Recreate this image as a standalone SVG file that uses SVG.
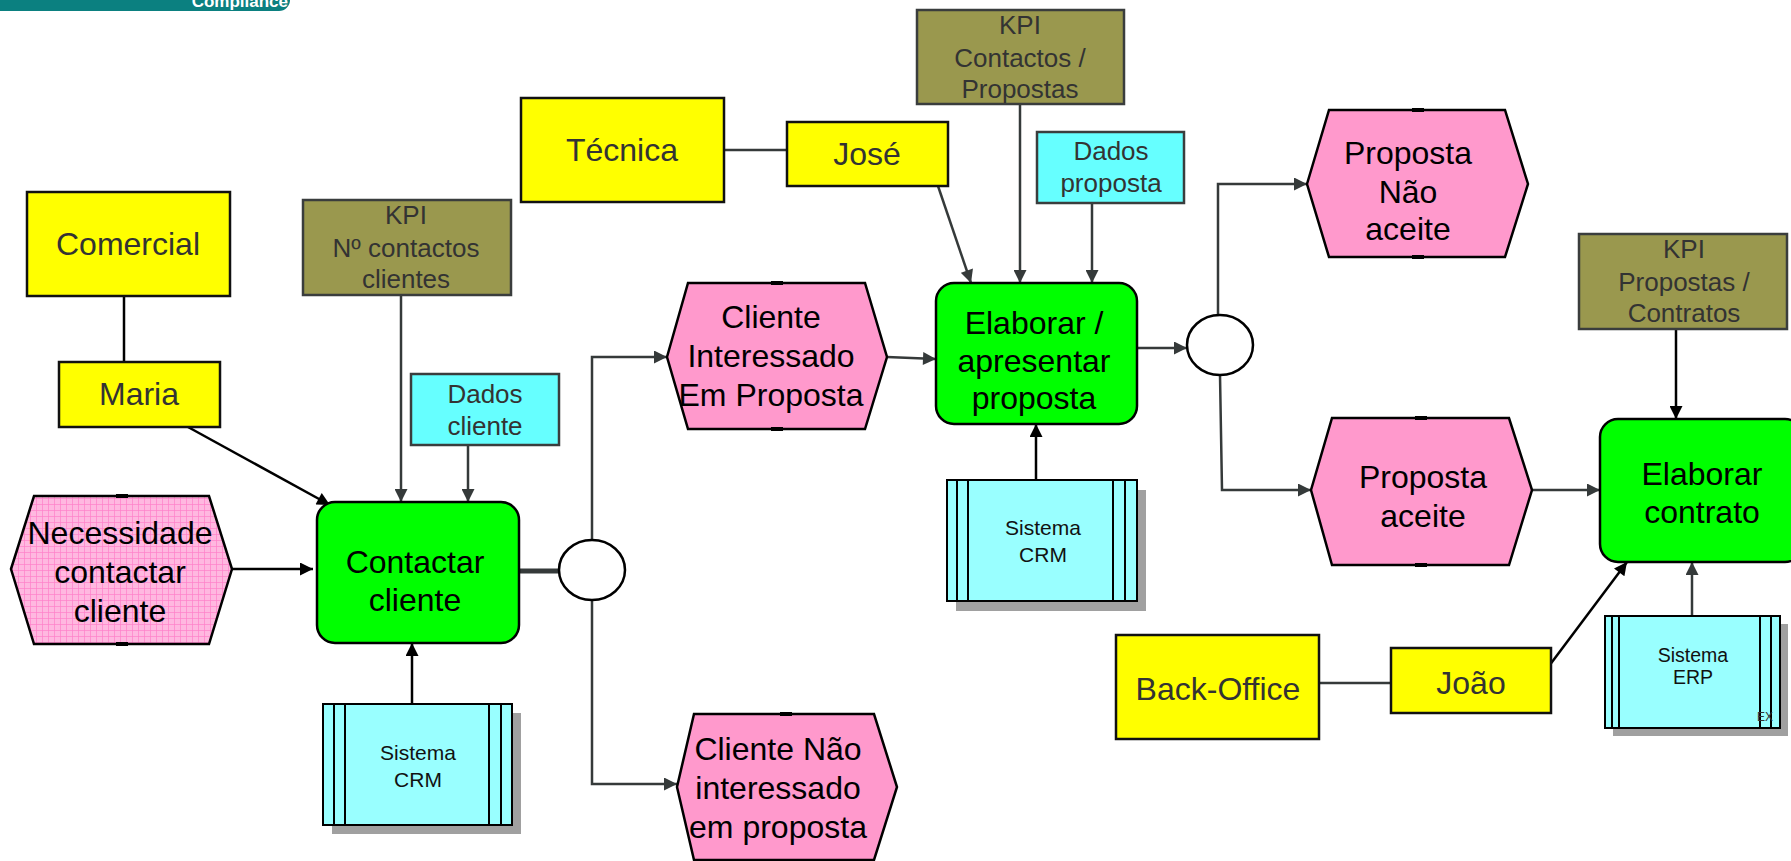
<svg xmlns="http://www.w3.org/2000/svg" width="1791" height="861" viewBox="0 0 1791 861">
<style>
.t{font-family:"Liberation Sans",Arial,sans-serif;text-anchor:middle}
.big{font-size:32px;fill:#000}
.org{font-size:32px;fill:#333}
.kpi{font-size:26px;fill:#333}
.sys{font-size:21px;fill:#111}
.yel{fill:#ffff00;stroke:#111;stroke-width:2.5}
.fn{fill:#00ff00;stroke:#000;stroke-width:2.5}
.ev{fill:#ff99cc;stroke:#000;stroke-width:2.5;stroke-linejoin:miter}
.kp{fill:#9a984e;stroke:#3a3d3d;stroke-width:2.5}
.da{fill:#66ffff;stroke:#3a3d3d;stroke-width:2.5}
.sy{fill:#99ffff;stroke:#000;stroke-width:2}
.sh{fill:#a0a0a0}
.il{stroke:#000;stroke-width:2;fill:none}
.c{fill:none;stroke:#353a3a;stroke-width:2.5}
.cb{fill:none;stroke:#000;stroke-width:2.5}
.mk{fill:#000}
</style>
<defs>
<marker id="ah" viewBox="0 0 10 10" refX="10" refY="5" markerWidth="15" markerHeight="13" markerUnits="userSpaceOnUse" orient="auto"><path d="M0,0 L10,5 L0,10 z" fill="#353a3a"/></marker>
<marker id="ab" viewBox="0 0 10 10" refX="10" refY="5" markerWidth="15" markerHeight="13" markerUnits="userSpaceOnUse" orient="auto"><path d="M0,0 L10,5 L0,10 z" fill="#000"/></marker>
<pattern id="grid" width="6" height="6" patternUnits="userSpaceOnUse"><rect width="6" height="6" fill="#ffb8e0"/><path d="M0,0.5 H6 M0.5,0 V6" stroke="#ff80c8" stroke-width="0.7"/></pattern>
</defs>

<g id="banner">
<rect x="-30" y="-40" width="320" height="51" rx="11" fill="#0b8080"/>
<text x="288" y="7" style="font-family:'Liberation Sans',Arial,sans-serif;font-size:17px;font-weight:bold;fill:#fff;text-anchor:end">Compliance</text>
</g>

<g id="connectors">
<line class="cb" x1="124" y1="296" x2="124" y2="362"/>
<line class="cb" x1="188" y1="427" x2="330" y2="505" marker-end="url(#ab)"/>
<line class="c" x1="401" y1="295" x2="401" y2="502" marker-end="url(#ah)"/>
<line class="c" x1="468" y1="445" x2="468" y2="502" marker-end="url(#ah)"/>
<line class="cb" x1="232" y1="569" x2="313" y2="569" marker-end="url(#ab)"/>
<line class="cb" x1="412" y1="704" x2="412" y2="643" marker-end="url(#ab)"/>
<line x1="519" y1="571" x2="559" y2="571" stroke="#353a3a" stroke-width="5"/>
<polyline class="c" points="592,540 592,357 667,357" marker-end="url(#ah)"/>
<polyline class="c" points="592,600 592,784 677,784" marker-end="url(#ah)"/>
<line class="c" x1="887" y1="357" x2="936" y2="359" marker-end="url(#ah)"/>
<line class="c" x1="724" y1="150" x2="787" y2="150"/>
<line class="c" x1="938" y1="186" x2="971" y2="283" marker-end="url(#ah)"/>
<line class="c" x1="1020" y1="104" x2="1020" y2="283" marker-end="url(#ah)"/>
<line class="c" x1="1092" y1="203" x2="1092" y2="283" marker-end="url(#ah)"/>
<line class="cb" x1="1036" y1="480" x2="1036" y2="424" marker-end="url(#ab)"/>
<line class="c" x1="1137" y1="348" x2="1187" y2="348" marker-end="url(#ah)"/>
<polyline class="c" points="1218,315 1218,184 1307,184" marker-end="url(#ah)"/>
<polyline class="c" points="1220,375 1222,490 1311,490" marker-end="url(#ah)"/>
<line class="c" x1="1532" y1="490" x2="1600" y2="490" marker-end="url(#ah)"/>
<line class="cb" x1="1676" y1="329" x2="1676" y2="419" marker-end="url(#ab)"/>
<line class="c" x1="1319" y1="683" x2="1391" y2="683"/>
<line class="cb" x1="1549" y1="666" x2="1627" y2="562" marker-end="url(#ab)"/>
<line class="c" x1="1692" y1="616" x2="1692" y2="562" marker-end="url(#ah)"/>
</g>

<g id="comercial"><rect class="yel" x="27" y="192" width="203" height="104"/><text class="t org" x="128" y="255">Comercial</text></g>
<g id="maria"><rect class="yel" x="59" y="362" width="161" height="65"/><text class="t org" x="139" y="405">Maria</text></g>
<g id="kpi-contactos"><rect class="kp" x="303" y="200" width="208" height="95"/><text class="t kpi" x="406" y="224">KPI</text><text class="t kpi" x="406" y="257">Nº contactos</text><text class="t kpi" x="406" y="288">clientes</text></g>
<g id="dados-cliente"><rect class="da" x="411" y="374" width="148" height="71"/><text class="t kpi" x="485" y="403">Dados</text><text class="t kpi" x="485" y="435">cliente</text></g>
<g id="necessidade"><polygon points="11,569 34,496 209,496 232,569 209,644 34,644" fill="url(#grid)" stroke="#000" stroke-width="2.5"/><rect class="mk" x="116" y="494" width="12" height="4"/><rect class="mk" x="116" y="642" width="12" height="4"/><text class="t big" x="120" y="544">Necessidade</text><text class="t big" x="120" y="583">contactar</text><text class="t big" x="120" y="622">cliente</text></g>
<g id="contactar"><rect class="fn" x="317" y="502" width="202" height="141" rx="18"/><text class="t big" x="415" y="573">Contactar</text><text class="t big" x="415" y="611">cliente</text></g>
<g id="xor1"><ellipse cx="592" cy="570" rx="33" ry="30" fill="#fff" stroke="#000" stroke-width="2.5"/></g>
<g id="crm1"><rect class="sh" x="332" y="713" width="189" height="121"/><rect class="sy" x="323" y="704" width="189" height="121"/><path class="il" d="M334,704V825M345,704V825M489,704V825M501,704V825"/><text class="t sys" x="418" y="760">Sistema</text><text class="t sys" x="418" y="787">CRM</text></g>
<g id="cliente-interessado"><polygon class="ev" points="667,357 688,283 865,283 887,357 865,429 688,429"/><rect class="mk" x="771" y="281" width="12" height="4"/><rect class="mk" x="771" y="427" width="12" height="4"/><text class="t big" x="771" y="328">Cliente</text><text class="t big" x="771" y="367">Interessado</text><text class="t big" x="771" y="406">Em Proposta</text></g>
<g id="cliente-nao"><polygon class="ev" points="677,787 694,714 874,714 897,787 874,860 694,860"/><rect class="mk" x="780" y="712" width="12" height="4"/><text class="t big" x="778" y="760">Cliente Não</text><text class="t big" x="778" y="799">interessado</text><text class="t big" x="778" y="838">em proposta</text></g>
<g id="tecnica"><rect class="yel" x="521" y="98" width="203" height="104"/><text class="t org" x="622" y="161">Técnica</text></g>
<g id="jose"><rect class="yel" x="787" y="122" width="161" height="64"/><text class="t org" x="867" y="165">José</text></g>
<g id="kpi-propostas"><rect class="kp" x="917" y="10" width="207" height="94"/><text class="t kpi" x="1020" y="34">KPI</text><text class="t kpi" x="1020" y="67">Contactos /</text><text class="t kpi" x="1020" y="98">Propostas</text></g>
<g id="dados-proposta"><rect class="da" x="1037" y="132" width="147" height="71"/><text class="t kpi" x="1111" y="160">Dados</text><text class="t kpi" x="1111" y="192">proposta</text></g>
<g id="elaborar-proposta"><rect class="fn" x="936" y="283" width="201" height="141" rx="18"/><text class="t big" x="1034" y="334">Elaborar /</text><text class="t big" x="1034" y="372">apresentar</text><text class="t big" x="1034" y="409">proposta</text></g>
<g id="crm2"><rect class="sh" x="956" y="490" width="190" height="121"/><rect class="sy" x="947" y="480" width="190" height="121"/><path class="il" d="M957,480V601M968,480V601M1113,480V601M1125,480V601"/><text class="t sys" x="1043" y="535">Sistema</text><text class="t sys" x="1043" y="562">CRM</text></g>
<g id="xor2"><ellipse cx="1220" cy="345" rx="33" ry="30" fill="#fff" stroke="#000" stroke-width="2.5"/></g>
<g id="proposta-nao"><polygon class="ev" points="1307,184 1329,110 1505,110 1528,184 1505,257 1329,257"/><rect class="mk" x="1412" y="108" width="12" height="4"/><rect class="mk" x="1412" y="255" width="12" height="4"/><text class="t big" x="1408" y="164">Proposta</text><text class="t big" x="1408" y="203">Não</text><text class="t big" x="1408" y="240">aceite</text></g>
<g id="proposta-aceite"><polygon class="ev" points="1311,490 1332,418 1509,418 1532,490 1509,565 1332,565"/><rect class="mk" x="1415" y="416" width="12" height="4"/><rect class="mk" x="1415" y="563" width="12" height="4"/><text class="t big" x="1423" y="488">Proposta</text><text class="t big" x="1423" y="527">aceite</text></g>
<g id="kpi-contratos"><rect class="kp" x="1579" y="234" width="208" height="95"/><text class="t kpi" x="1684" y="258">KPI</text><text class="t kpi" x="1684" y="291">Propostas /</text><text class="t kpi" x="1684" y="322">Contratos</text></g>
<g id="elaborar-contrato"><rect class="fn" x="1600" y="419" width="203" height="143" rx="18"/><text class="t big" x="1702" y="485">Elaborar</text><text class="t big" x="1702" y="523">contrato</text></g>
<g id="back-office"><rect class="yel" x="1116" y="635" width="203" height="104"/><text class="t org" x="1218" y="700">Back-Office</text></g>
<g id="joao"><rect class="yel" x="1391" y="648" width="160" height="65"/><text class="t org" x="1471" y="694">João</text></g>
<g id="erp"><rect class="sh" x="1613" y="624" width="175" height="112"/><rect class="sy" x="1605" y="616" width="175" height="112"/><path class="il" d="M1612,616V728M1619,616V728M1760,616V728M1771,616V728"/><text class="t" x="1693" y="662" style="font-size:19.5px;fill:#111">Sistema</text><text class="t" x="1693" y="684" style="font-size:19.5px;fill:#111">ERP</text><text class="t" x="1765" y="721" style="font-size:12px;fill:#333">EX</text></g>
</svg>
